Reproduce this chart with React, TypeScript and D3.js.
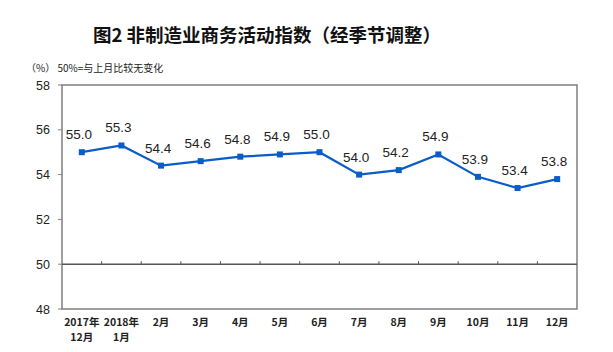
import React from 'react';
import * as d3 from 'd3';

// Non-manufacturing business activity index (seasonally adjusted)
const categories = ['2017年\n12月', '2018年\n1月', '2月', '3月', '4月', '5月', '6月', '7月', '8月', '9月', '10月', '11月', '12月'];
const values = [55.0, 55.3, 54.4, 54.6, 54.8, 54.9, 55.0, 54.0, 54.2, 54.9, 53.9, 53.4, 53.8];
const yTicks = [48, 50, 52, 54, 56, 58];

const W = 613;
const H = 352;
const left = 62;
const right = 577;
const top = 85;
const bottom = 309;
const blue = '#0a5cc8';
const axisGray = '#7f7f7f';
const cjk = '"Noto Sans CJK SC", "Noto Sans", sans-serif';
const latin = '"Liberation Sans", Arial, sans-serif';

export default function App() {
  const x = d3.scaleBand<number>().domain(d3.range(categories.length)).range([left, right]);
  const y = d3.scaleLinear().domain([48, 58]).range([bottom, top]);
  const cx = (i: number) => (x(i) ?? 0) + x.bandwidth() / 2;

  const line = d3.line<number>()
    .x((_, i) => cx(i))
    .y(d => y(d));

  return (
    <svg width={W} height={H} style={{ position: 'absolute', left: 0, top: 0, background: '#fff' }}>
      <text x={267} y={42} textAnchor="middle" fontFamily={cjk} fontSize={18.5} fontWeight="bold" fill="#111">
        图2 非制造业商务活动指数（经季节调整）
      </text>
      <text x={26} y={72} fontFamily={cjk} fontSize={10} fill="#222">
        （%） 50%=与上月比较无变化
      </text>

      {/* frame */}
      <rect x={left} y={top} width={right - left} height={bottom - top} fill="none" stroke={axisGray} strokeWidth={1.5} />

      {/* y ticks */}
      {yTicks.map(t => (
        <g key={t}>
          <line x1={left - 4} x2={left} y1={y(t)} y2={y(t)} stroke={axisGray} strokeWidth={1} />
          <text x={50} y={y(t) + 4.5} textAnchor="end" fontFamily={latin} fontSize={12.5} fill="#222">{t}</text>
        </g>
      ))}

      {/* 50 baseline with category ticks */}
      <line x1={left} x2={right} y1={y(50)} y2={y(50)} stroke="#555" strokeWidth={1.5} />
      {d3.range(1, categories.length).map(i => (
        <line key={i} x1={x(i)} x2={x(i)} y1={y(50) - 3} y2={y(50)} stroke="#555" strokeWidth={1} />
      ))}

      {/* x labels */}
      {categories.map((c, i) => (
        <text key={i} textAnchor="middle" fontFamily={cjk} fontSize={10.5} fontWeight="bold" fill="#222">
          {c.split('\n').map((s, k) => (
            <tspan key={k} x={cx(i)} y={326 + k * 15}>{s}</tspan>
          ))}
        </text>
      ))}

      {/* series */}
      <path d={line(values) ?? ''} fill="none" stroke={blue} strokeWidth={2.2} />
      {values.map((v, i) => (
        <rect key={i} x={cx(i) - 3} y={y(v) - 3} width={6} height={6} fill={blue} />
      ))}
      {values.map((v, i) => (
        <text key={i} x={cx(i) - 3} y={y(v) - 13} textAnchor="middle" fontFamily={latin} fontSize={13.5} fill="#222">
          {v.toFixed(1)}
        </text>
      ))}
    </svg>
  );
}
